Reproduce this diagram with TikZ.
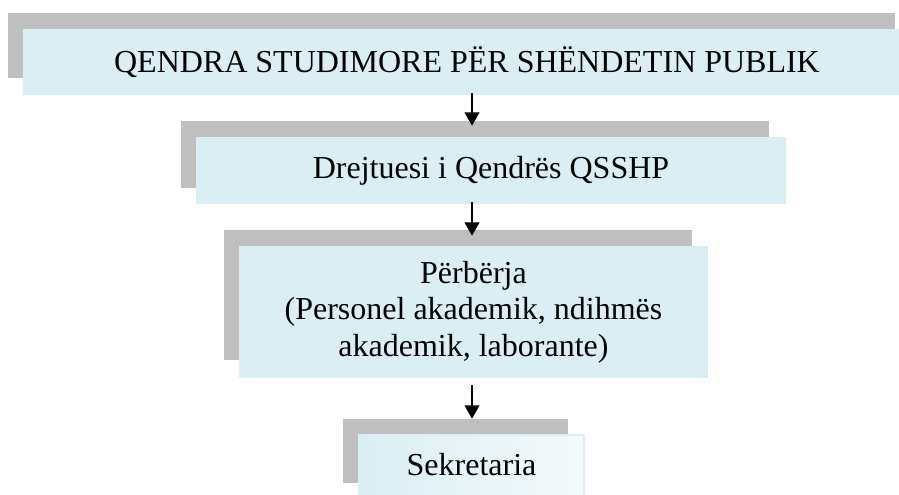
\documentclass[tikz,border=0pt]{standalone}
\usepackage{fontspec}
\setmainfont{Liberation Serif}
\usetikzlibrary{arrows.meta,calc}

\definecolor{boxblue}{HTML}{DAEEF3}
\definecolor{boxpale}{HTML}{F5FAFC}
\definecolor{shadowgray}{HTML}{BFBFBF}

\begin{document}
\begin{tikzpicture}[x=0.75pt,y=-0.75pt,
  shadowbox/.style={rectangle,fill=shadowgray,inner sep=0pt},
  unitbox/.style={rectangle,fill=boxblue,inner sep=0pt,align=center,
    font=\fontsize{24}{27.4}\selectfont},
  arr/.style={line width=1.3pt,-{Triangle[length=10pt,width=11pt]}}]

\useasboundingbox (0,0) rectangle (899,495);

% centre line of the arrows
\coordinate (axis) at (472,0);

% QSSHP node
\node[shadowbox,minimum width=665.25pt,minimum height=48.75pt] (centreshadow) at (451.5,45.5) {};
\node[unitbox,minimum width=657pt,minimum height=49.5pt] (centre) at (461,62) {\hspace*{9pt}QENDRA STUDIMORE PËR SHËNDETIN PUBLIK};

% head node
\node[shadowbox,minimum width=441pt,minimum height=50.25pt] (headshadow) at (475,154.5) {};
\node[unitbox,minimum width=442.5pt,minimum height=50.25pt] (head) at (491,170.5) {Drejtuesi i Qendrës QSSHP};

% staff node
\node[shadowbox,minimum width=351pt,minimum height=97.5pt] (staffshadow) at (458,295) {};
\node[unitbox,minimum width=351.75pt,minimum height=99pt] (staff) at (473.5,312) {Përbërja\\(Personel akademik, ndihmës\\akademik, laborante)};

% secretary node
\node[shadowbox,minimum width=168.75pt,minimum height=48pt] (secretshadow) at (455.5,451) {};
\node[unitbox,fill=none,draw=boxblue,line width=1pt,left color=boxblue,right color=boxpale,
  minimum width=168.75pt,minimum height=48.75pt] (secret) at (471.5,467.5) {\raisebox{5pt}{Sekretaria}};

\draw[arr] ($(centre.south -| axis)+(0,-2)$) -- ($(headshadow.north -| axis)+(0,5)$);
\draw[arr] ($(head.south -| axis)+(0,-2)$) -- ($(staffshadow.north -| axis)+(0,6)$);
\draw[arr] ($(staff.south -| axis)+(0,7)$) -- (secretshadow.north -| axis);

\end{tikzpicture}
\end{document}
